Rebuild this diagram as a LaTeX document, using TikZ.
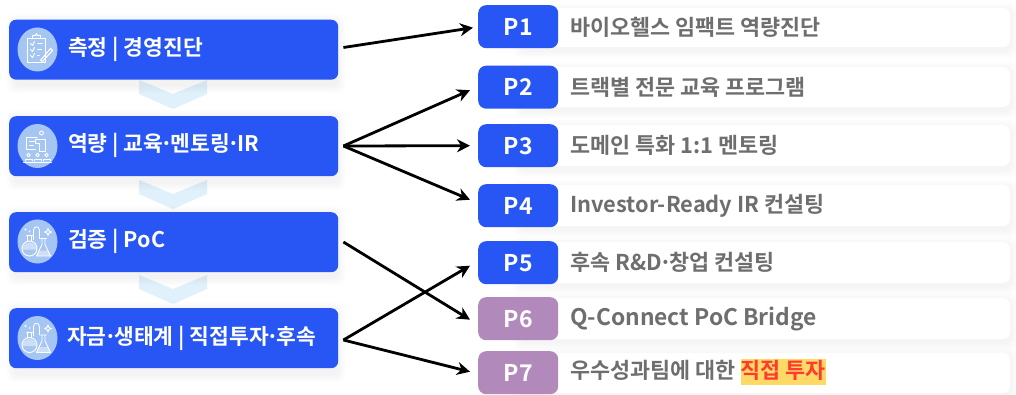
\documentclass[tikz,border=0pt]{standalone}
\usepackage{fontspec}
\setmainfont{Noto Sans CJK KR}[BoldFont={Noto Sans CJK KR Bold}]
\usetikzlibrary{arrows.meta,positioning,calc,shapes.geometric}
\definecolor{mainblue}{HTML}{2756F5}
\definecolor{plum}{HTML}{B18ABB}
\definecolor{iconbg}{HTML}{A5C5F2}
\definecolor{chev}{HTML}{E1F1FC}
\definecolor{greytxt}{HTML}{6E6E6E}
\definecolor{hl}{HTML}{FFD966}
\definecolor{hlred}{HTML}{FF3B30}
\newcommand{\md}{\kern-2.6pt·\kern-2.6pt}
\tikzset{
  stagebox/.style={fill=mainblue,rounded corners=7pt,inner sep=0pt,anchor=north west},
  stagetext/.style={text=white,font=\bfseries\fontsize{21.5}{23}\selectfont,anchor=west,inner sep=0pt},
  pbox/.style={fill=mainblue,rounded corners=8pt,inner sep=0pt,anchor=north west,minimum width=80pt,minimum height=43pt,text=white,font=\bfseries\fontsize{23}{24}\selectfont},
  pviolet/.style={pbox,fill=plum},
  paneltext/.style={text=greytxt,font=\bfseries\fontsize{21.8}{23}\selectfont,anchor=west,inner sep=0pt},
  link/.style={draw=black,line width=2.8pt,-{Stealth[length=13pt,width=13pt]}},
  iconline/.style={draw=white,line width=0.9pt,line cap=round,line join=round},
  icondisc/.style={ellipse,fill=iconbg},
}
\newcommand{\softpanel}[2]{%
  \foreach \g in {7,5.5,4,2.5,1}{
    \fill[black,opacity=0.009,rounded corners=8pt] (520-\g,#1+2-\g) rectangle (1011+\g,#2+4+\g);
  }
  \fill[white,rounded corners=7pt] (520,#1) rectangle (1010,#2);
}
\newcommand{\softstage}[2]{%
  \foreach \g in {8,6,4,2}{
    \fill[black,opacity=0.012,rounded corners=8pt] (15-\g,#1+2-\g) rectangle (337+\g,#2+6+\g);
  }
}
\newcommand{\chevron}[1]{%
  \fill[chev] (139,#1) -- (173,#1+14) -- (207,#1) -- (207,#1+14) -- (173,#1+29) -- (139,#1+14) -- cycle;
}
\newcommand{\flaskicon}[2]{%
  \begin{scope}[shift={(#1,#2)},iconline]
    \draw (-8,8) circle (7.5);
    \fill[white,opacity=0.45] (-15,9) arc[start angle=180,end angle=360,radius=7] -- cycle;
    \draw (-11,-5) -- (-5,-5) (-10,1) -- (-10,-5) (-6,1) -- (-6,-5);
    \draw (-4,-1) -- (-4,-10) .. controls (-4,-15) and (2,-15) .. (2,-10) -- (2,-2);
    \draw (3,-2) -- (9,-2) (4.5,-2) -- (4.5,4) -- (-1,15.5) -- (13,15.5) -- (7.5,4) -- (7.5,-2);
    \fill[white,opacity=0.45] (1.5,10) -- (10.5,10) -- (13,15.5) -- (-1,15.5) -- cycle;
    \draw (10.5,-12) -- (11.5,-9.5) -- (14,-8.5) -- (11.5,-7.5) -- (10.5,-5) -- (9.5,-7.5) -- (7,-8.5) -- (9.5,-9.5) -- cycle;
    \fill[white] (-12,-11) circle (1.2);
    \fill[white] (-8,-9) circle (0.8);
  \end{scope}
}
\begin{document}
\begin{tikzpicture}[x=1pt,y=-1pt]
\useasboundingbox (0,0) rectangle (1016,395);
\fill[white] (0,0) rectangle (1016,395);

% chevrons
\chevron{80}
\chevron{180}
\chevron{275}

% soft shadows
\softstage{20}{79}
\softstage{116}{176}
\softstage{212}{271}
\softstage{308}{368}

% stage boxes
\node[stagebox,minimum width=329pt,minimum height=60pt] (s1) at (9,19.5) {};
\node[stagebox,minimum width=329pt,minimum height=60pt] (s2) at (9,116) {};
\node[stagebox,minimum width=329pt,minimum height=60pt] (s3) at (9,212) {};
\node[stagebox,minimum width=329pt,minimum height=60pt] (s4) at (9,308) {};

% icon discs
\node[icondisc,minimum width=40pt,minimum height=44pt,inner sep=0pt] (d1) at (37.5,49.5) {};
\node[icondisc,minimum width=40pt,minimum height=44pt,inner sep=0pt] (d2) at (37.5,146) {};
\node[icondisc,minimum width=40pt,minimum height=44pt,inner sep=0pt] (d3) at (37.5,241.5) {};
\node[icondisc,minimum width=40pt,minimum height=44pt,inner sep=0pt] (d4) at (37.5,338) {};

% clipboard icon
\begin{scope}[shift={(37.5,49.5)},iconline]
  \draw (-10,-11) rectangle (8,13);
  \draw (-5,-11) -- (-5,-14) -- (-2,-14) -- (-1,-16) -- (0,-14) -- (3,-14) -- (3,-11) -- cycle;
  \draw (-7,-6) -- (-5,-4) -- (-3,-8);
  \draw (-7,0) -- (-5,2) -- (-3,-2);
  \draw (-7,6) -- (-5,8) -- (-3,4);
  \draw (0,-6) -- (5,-6) (0,0) -- (4,0) (0,6) -- (2,6);
  \draw[line width=1.1pt] (3,11) -- (13,-1) -- (15,1) -- (5,12) -- cycle;
\end{scope}
% presenter icon
\begin{scope}[shift={(37.5,146)},iconline]
  \draw (0,-9) -- (-11,-9) -- (-11,3) -- (-2,3);
  \draw (-8,-5) -- (-3,-5) (-8,-1) -- (-4,-1);
  \draw (4,-13) circle (2);
  \draw (-2,-7) -- (8,-7) -- (8,5) -- (2,5) -- (2,-3) -- (-2,-3) -- cycle;
  \foreach \q in {-9,0,9}{
    \draw (\q,9) circle (1.8);
    \draw (\q-3.5,15) -- (\q-3.5,13) -- (\q+3.5,13) -- (\q+3.5,15);
  }
  \draw (-14,16.5) -- (14,16.5);
\end{scope}
\flaskicon{37.5}{240.5}
\flaskicon{37.5}{337}

% stage labels
\node[stagetext] (t1) at (68,49) {측정 | 경영진단};
\node[stagetext] (t2) at (68,145.5) {역량 | 교육\md 멘토링\md IR};
\node[stagetext] (t3) at (68,241) {검증 | PoC};
\node[stagetext] (t4) at (67,338) {자금\md 생태계 | 직접투자\md 후속};

% panels
\softpanel{8}{47}
\softpanel{67}{107}
\softpanel{125}{166}
\softpanel{185}{226}
\softpanel{242}{283}
\softpanel{298}{339}
\softpanel{353}{393}

% P boxes
\node[pbox] (p1) at (478,5) {P1};
\node[pbox] (p2) at (478,65.5) {P2};
\node[pbox] (p3) at (478,124) {P3};
\node[pbox] (p4) at (478,184) {P4};
\node[pbox] (p5) at (478,241) {P5};
\node[pviolet] (p6) at (478,297) {P6};
\node[pviolet] (p7) at (478,351) {P7};

% panel texts
\node[paneltext] (q1) at (570,27) {바이오헬스 임팩트 역량진단};
\node[paneltext] (q2) at (570,87) {트랙별 전문 교육 프로그램};
\node[paneltext] (q3) at (570,145.5) {도메인 특화 1:1 멘토링};
\node[paneltext] (q4) at (570,205.5) {Investor-Ready IR 컨설팅};
\node[paneltext] (q5) at (570,262.5) {후속 R\&D\md 창업 컨설팅};
\node[paneltext,font=\bfseries\fontsize{22.8}{24}\selectfont] (q6) at (570,319) {Q-Connect PoC Bridge};
\node[paneltext] (q7) at (570,372) {우수성과팀에 대한 \setlength{\fboxsep}{0pt}\colorbox{hl}{\rule{0pt}{19pt}\rule[-7pt]{0pt}{7pt}\textcolor{hlred}{직접 투자}}};

% connector start/end coordinates
\coordinate (a1) at ($(s1.north east)+(5,28)$);
\coordinate (a2) at ($(s2.north east)+(5,30)$);
\coordinate (a3) at ($(s3.north east)+(5,30)$);
\coordinate (a4) at ($(s4.north east)+(5,32)$);
\coordinate (b1) at ($(p1.west)+(-5,1)$);
\coordinate (b2) at ($(p2.west)+(-8,3)$);
\coordinate (b3) at ($(p3.west)+(-8,0)$);
\coordinate (b4) at ($(p4.west)+(-8,-6)$);
\coordinate (b5) at ($(p5.west)+(-8,3)$);
\coordinate (b6) at ($(p6.west)+(-8,1)$);
\coordinate (b7) at ($(p7.west)+(-8,-1)$);

\draw[link] (a1) -- (b1);
\draw[link] (a2) -- (b2);
\draw[link] (a2) -- (b3);
\draw[link] (a2) -- (b4);
\draw[link] (a3) -- (b6);
\draw[link] (a4) -- (b5);
\draw[link] (a4) -- (b7);
\end{tikzpicture}
\end{document}
